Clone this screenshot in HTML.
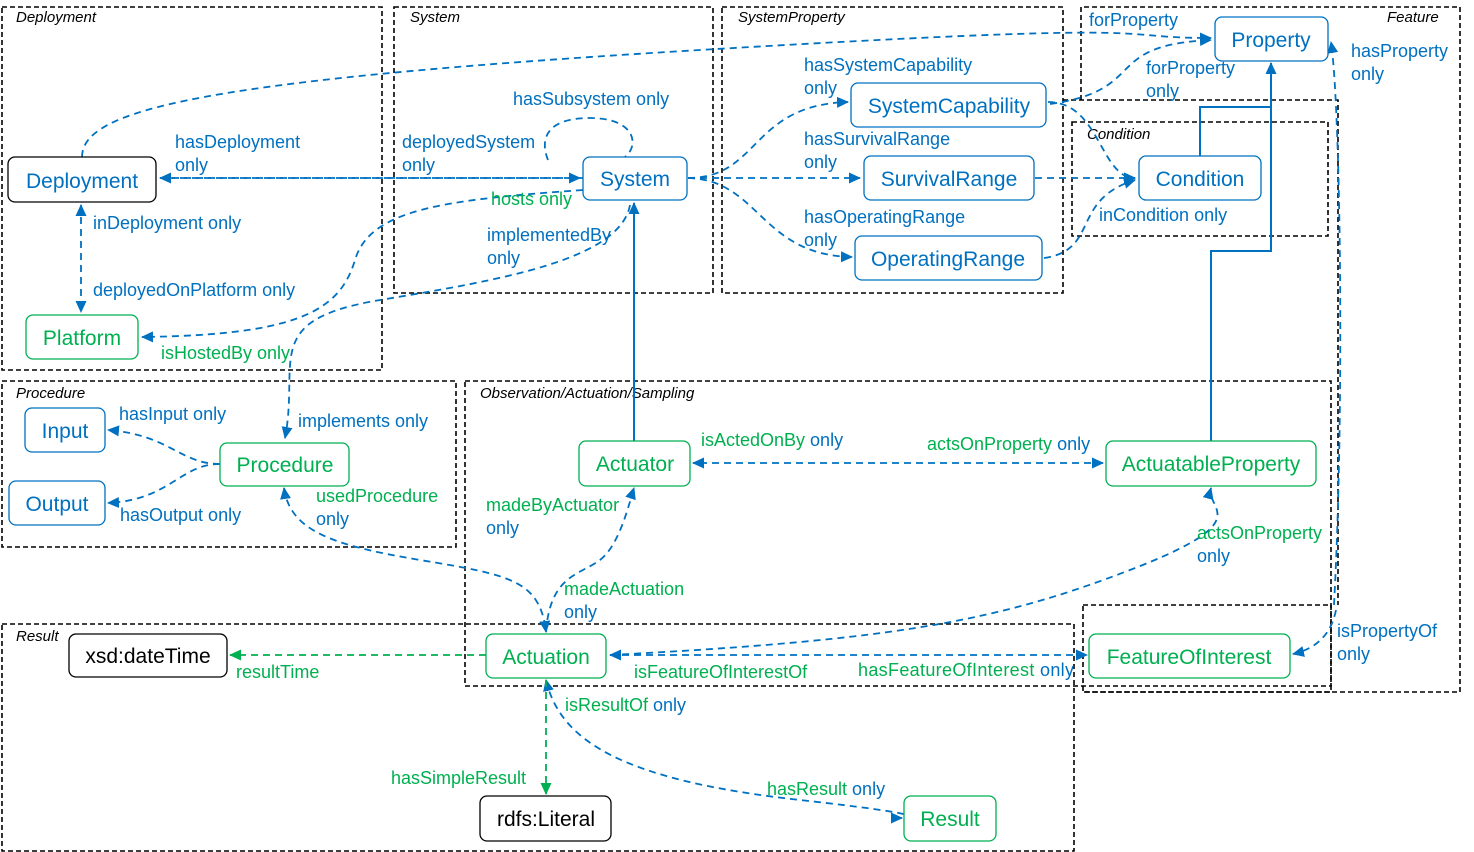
<!DOCTYPE html>
<html><head><meta charset="utf-8"><style>
body{margin:0;background:#fff}
svg{display:block;font-family:"Liberation Sans",sans-serif}
.sec{fill:none;stroke:#000;stroke-width:1.6;stroke-dasharray:5,3}
.t{font-style:italic;font-size:15px;fill:#000}
.n{fill:#fff;stroke-width:1.3}
.nb{stroke:#0070C0}.ng{stroke:#00B050}.nk{stroke:#000}
.nl{font-size:21px;text-anchor:middle}
.b{fill:#0070C0}.g{fill:#00B050}.k{fill:#000}
.e{fill:none;stroke:#0070C0;stroke-width:1.8;stroke-dasharray:7,5}
.eg{fill:none;stroke:#00B050;stroke-width:1.8;stroke-dasharray:7,5}
.s{fill:none;stroke:#0070C0;stroke-width:2}
.l{font-size:18px}
</style></head><body>
<svg width="1474" height="852" viewBox="0 0 1474 852">
<defs>
<marker id="ab" markerWidth="12" markerHeight="12" refX="11" refY="6" orient="auto" markerUnits="userSpaceOnUse"><path d="M0,0.5L12,6L0,11.5z" fill="#0070C0"/></marker>
<marker id="ag" markerWidth="12" markerHeight="12" refX="11" refY="6" orient="auto" markerUnits="userSpaceOnUse"><path d="M0,0.5L12,6L0,11.5z" fill="#00B050"/></marker>
<marker id="sb" markerWidth="12" markerHeight="12" refX="1" refY="6" orient="auto" markerUnits="userSpaceOnUse"><path d="M12,0.5L0,6L12,11.5z" fill="#0070C0"/></marker>
</defs>
<!-- sections -->
<rect class="sec" x="2" y="7" width="380" height="363"/><text class="t" x="16" y="22">Deployment</text>
<rect class="sec" x="394" y="7" width="319" height="286"/><text class="t" x="410" y="22">System</text>
<rect class="sec" x="722" y="7" width="341" height="286"/><text class="t" x="738" y="22">SystemProperty</text>
<path class="sec" d="M1081,100V7H1460V692H1083"/><text class="t" x="1387" y="22">Feature</text>
<path class="sec" d="M1063,100H1338V605"/>
<rect class="sec" x="1072" y="122" width="256" height="114"/><text class="t" x="1087" y="139">Condition</text>
<rect class="sec" x="2" y="381" width="454" height="166"/><text class="t" x="16" y="398">Procedure</text>
<rect class="sec" x="465" y="381" width="866" height="305"/><text class="t" x="480" y="398" style="font-size:15px">Observation/Actuation/Sampling</text>
<rect class="sec" x="2" y="624" width="1072" height="227"/><text class="t" x="16" y="641">Result</text>
<rect class="sec" x="1083" y="605" width="248" height="87"/>

<!-- solid edges -->
<path class="s" d="M634,441V203" marker-end="url(#ab)"/>
<path class="s" d="M1211,441V251H1271V63" marker-end="url(#ab)"/>
<path class="s" d="M1200,156V107H1271"/>

<!-- dashed edges -->
<path class="e" d="M82,157C82,110 200,80 700,50S1100,38 1211,38" marker-end="url(#ab)"/>
<path class="e" d="M583,178H160" marker-end="url(#ab)"/>
<path class="e" d="M160,178H580" marker-end="url(#ab)"/>
<path class="e" d="M81,205V312" marker-end="url(#ab)" marker-start="url(#sb)"/>
<path class="e" d="M583,190C440,200 370,210 355,260S300,335 142,337" marker-end="url(#ab)"/>
<path class="e" d="M548,160C540,140 545,118 590,118S640,145 625,157"/>
<path class="e" d="M630,205C620,260 500,280 380,300S300,360 285,438" marker-end="url(#ab)"/>
<path class="e" d="M688,178C760,178 750,105 848,102" marker-end="url(#ab)"/>
<path class="e" d="M688,178H860" marker-end="url(#ab)"/>
<path class="e" d="M688,178C760,180 760,255 852,257" marker-end="url(#ab)"/>
<path class="e" d="M1048,102C1100,102 1100,178 1135,178" marker-end="url(#ab)"/>
<path class="e" d="M1035,178H1135" marker-end="url(#ab)"/>
<path class="e" d="M1044,258C1100,250 1070,200 1135,180" marker-end="url(#ab)"/>
<path class="e" d="M1050,104C1150,90 1100,45 1211,40" marker-end="url(#ab)"/>
<path class="e" d="M1334,605C1345,400 1340,100 1331,42" marker-end="url(#ab)"/>
<path class="e" d="M1336,610C1330,640 1310,650 1293,654" marker-end="url(#ab)"/>
<path class="e" d="M220,464C180,464 170,435 108,430" marker-end="url(#ab)"/>
<path class="e" d="M220,464C180,464 170,500 108,503" marker-end="url(#ab)"/>
<path class="e" d="M284,488C290,530 330,545 420,560S540,580 546,632" marker-end="url(#ab)" marker-start="url(#sb)"/>
<path class="e" d="M546,632C550,575 580,575 600,560S630,500 634,488" marker-end="url(#ab)"/>
<path class="e" d="M1103,463H693" marker-end="url(#ab)" marker-start="url(#sb)"/>
<path class="e" d="M610,655C900,640 1000,620 1130,570S1205,510 1211,488" marker-end="url(#ab)"/>
<path class="e" d="M610,655H1087" marker-end="url(#ab)" marker-start="url(#sb)"/>
<path class="e" d="M546,680C560,740 620,780 800,800S880,818 902,818" marker-start="url(#sb)" marker-end="url(#ab)"/>
<path class="eg" d="M486,655H230" marker-end="url(#ag)"/>
<path class="eg" d="M546,680V794" marker-end="url(#ag)"/>

<!-- nodes -->
<rect class="n nk" x="8" y="157" width="148" height="45" rx="7"/><text class="nl b" x="82" y="188">Deployment</text>
<rect class="n ng" x="26" y="315" width="112" height="44" rx="7"/><text class="nl g" x="82" y="345">Platform</text>
<rect class="n nb" x="583" y="157" width="104" height="43" rx="7"/><text class="nl b" x="635" y="186">System</text>
<rect class="n nb" x="851" y="83" width="195" height="44" rx="7"/><text class="nl b" x="949" y="113">SystemCapability</text>
<rect class="n nb" x="864" y="156" width="170" height="44" rx="7"/><text class="nl b" x="949" y="186">SurvivalRange</text>
<rect class="n nb" x="855" y="236" width="187" height="44" rx="7"/><text class="nl b" x="948" y="266">OperatingRange</text>
<rect class="n nb" x="1215" y="17" width="113" height="44" rx="7"/><text class="nl b" x="1271" y="47">Property</text>
<rect class="n nb" x="1139" y="156" width="122" height="44" rx="7"/><text class="nl b" x="1200" y="186">Condition</text>
<rect class="n nb" x="25" y="408" width="80" height="44" rx="7"/><text class="nl b" x="65" y="438">Input</text>
<rect class="n nb" x="9" y="481" width="96" height="44" rx="7"/><text class="nl b" x="57" y="511">Output</text>
<rect class="n ng" x="220" y="443" width="129" height="43" rx="7"/><text class="nl g" x="285" y="472">Procedure</text>
<rect class="n ng" x="579" y="441" width="111" height="45" rx="7"/><text class="nl g" x="635" y="471">Actuator</text>
<rect class="n ng" x="1106" y="441" width="210" height="45" rx="7"/><text class="nl g" x="1211" y="471">ActuatableProperty</text>
<rect class="n ng" x="486" y="634" width="120" height="44" rx="7"/><text class="nl g" x="546" y="664">Actuation</text>
<rect class="n ng" x="1089" y="634" width="201" height="44" rx="7"/><text class="nl g" x="1189" y="664">FeatureOfInterest</text>
<rect class="n nk" x="69" y="634" width="158" height="43" rx="7"/><text class="nl k" x="148" y="663">xsd:dateTime</text>
<rect class="n nk" x="480" y="796" width="131" height="45" rx="7"/><text class="nl k" x="546" y="826">rdfs:Literal</text>
<rect class="n ng" x="904" y="796" width="92" height="45" rx="7"/><text class="nl g" x="950" y="826">Result</text>

<!-- labels -->
<g class="l">
<text class="b" x="175" y="148">hasDeployment</text><text class="b" x="175" y="171">only</text>
<text class="b" x="93" y="229">inDeployment only</text>
<text class="b" x="93" y="296">deployedOnPlatform only</text>
<text class="g" x="161" y="359">isHostedBy only</text>
<text class="b" x="513" y="105">hasSubsystem only</text>
<text class="b" x="402" y="148">deployedSystem</text><text class="b" x="402" y="171">only</text>
<text class="g" x="491" y="205">hosts only</text>
<text class="b" x="487" y="241">implementedBy</text><text class="b" x="487" y="264">only</text>
<text class="b" x="804" y="71">hasSystemCapability</text><text class="b" x="804" y="94">only</text>
<text class="b" x="804" y="145">hasSurvivalRange</text><text class="b" x="804" y="168">only</text>
<text class="b" x="804" y="223">hasOperatingRange</text><text class="b" x="804" y="246">only</text>
<text class="b" x="1089" y="26">forProperty</text>
<text class="b" x="1146" y="74">forProperty</text><text class="b" x="1146" y="97">only</text>
<text class="b" x="1351" y="57">hasProperty</text><text class="b" x="1351" y="80">only</text>
<text class="b" x="1099" y="221">inCondition only</text>
<text class="b" x="119" y="420">hasInput only</text>
<text class="b" x="120" y="521">hasOutput only</text>
<text class="b" x="298" y="427">implements only</text>
<text class="g" x="316" y="502">usedProcedure</text><text class="b" x="316" y="525">only</text>
<text x="701" y="446"><tspan class="g">isActedOnBy</tspan><tspan class="b"> only</tspan></text>
<text x="927" y="450"><tspan class="g">actsOnProperty</tspan><tspan class="b"> only</tspan></text>
<text class="g" x="486" y="511">madeByActuator</text><text class="b" x="486" y="534">only</text>
<text class="g" x="1197" y="539">actsOnProperty</text><text class="b" x="1197" y="562">only</text>
<text class="g" x="564" y="595">madeActuation</text><text class="b" x="564" y="618">only</text>
<text class="b" x="1337" y="637">isPropertyOf</text><text class="b" x="1337" y="660">only</text>
<text class="g" x="634" y="678">isFeatureOfInterestOf</text>
<text x="858" y="676" textLength="216"><tspan class="g">hasFeatureOfInterest</tspan><tspan class="b"> only</tspan></text>
<text class="g" x="236" y="678">resultTime</text>
<text class="g" x="565" y="711">isResultOf <tspan class="b">only</tspan></text>
<text class="g" x="391" y="784">hasSimpleResult</text>
<text class="g" x="767" y="795">hasResult <tspan class="b">only</tspan></text>
</g>
</svg>
</body></html>
